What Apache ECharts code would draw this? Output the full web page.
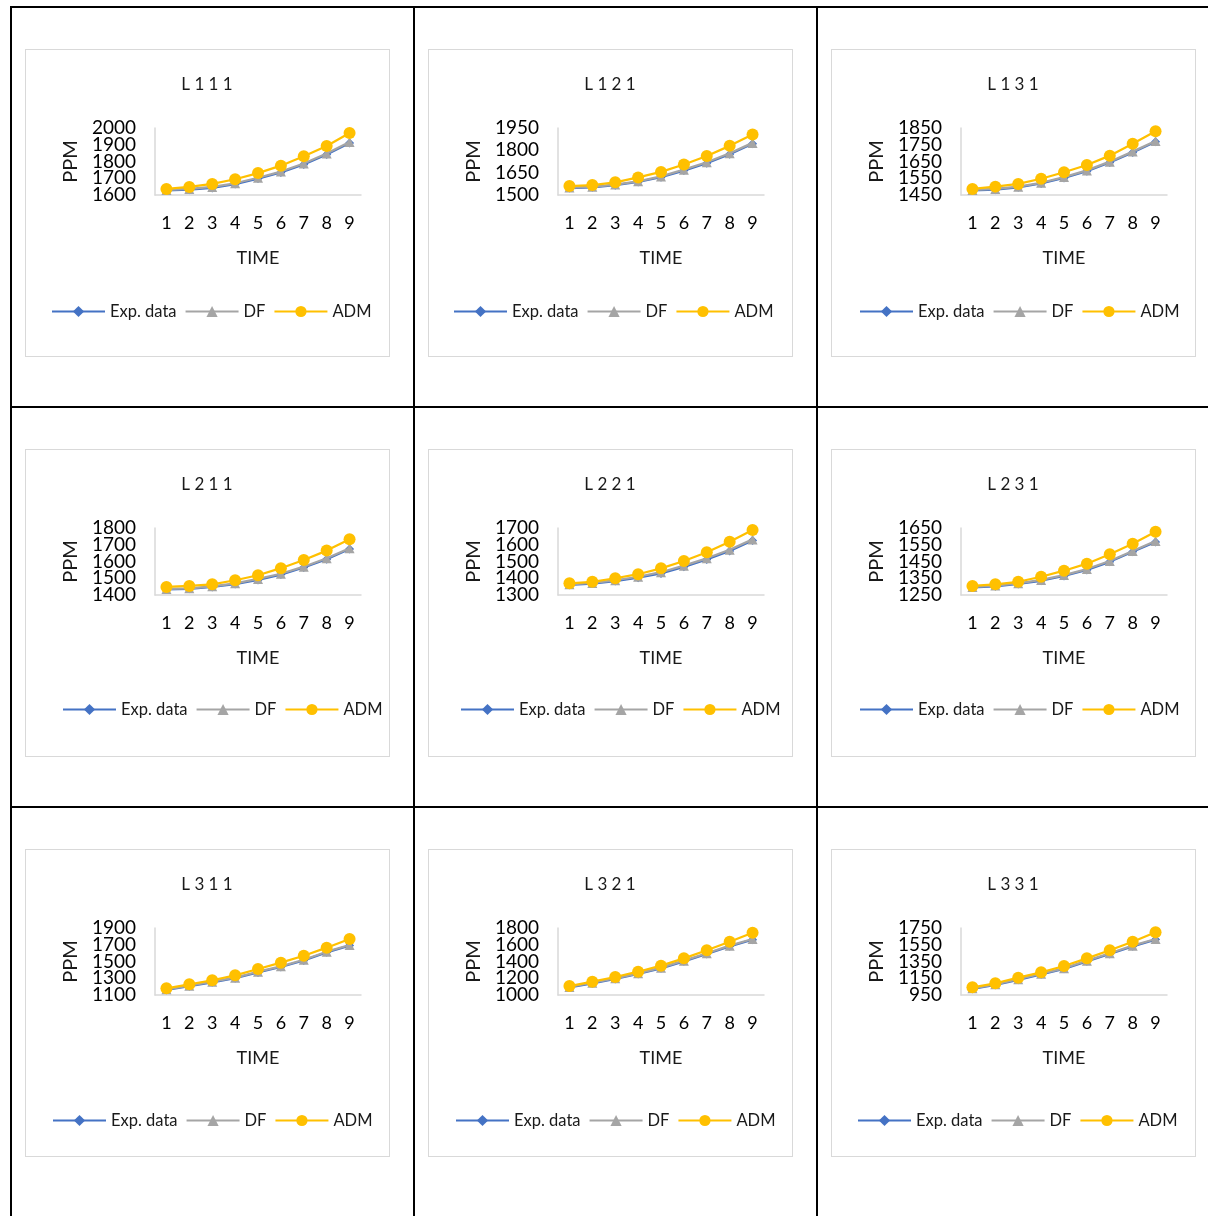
<!DOCTYPE html>
<html>
<head>
<meta charset="utf-8">
<script src="https://cdn.jsdelivr.net/npm/echarts@6/dist/echarts.min.js"></script>
<style>
  html, body { margin: 0; padding: 0; background: #fff; }
  body { width: 1208px; height: 1216px; position: relative; overflow: hidden; }
  .rule { position: absolute; background: #000; }
  .box { position: absolute; width: 365px; height: 308px; box-sizing: border-box;
         border: 1.5px solid #d9d9d9; background: #fff; }
</style>
</head>
<body>
<script>
// Time steps shared by all nine panels
const timeSteps = ['1', '2', '3', '4', '5', '6', '7', '8', '9'];
const seriesNames = ['Exp. data', 'DF', 'ADM'];

// Panel titles
const panelTitles = ['L111', 'L121', 'L131', 'L211', 'L221', 'L231', 'L311', 'L321', 'L331'];

// Y-axis tick labels (PPM) per panel
const ticksL111 = [1600, 1700, 1800, 1900, 2000];
const ticksL121 = [1500, 1650, 1800, 1950];
const ticksL131 = [1450, 1550, 1650, 1750, 1850];
const ticksL211 = [1400, 1500, 1600, 1700, 1800];
const ticksL221 = [1300, 1400, 1500, 1600, 1700];
const ticksL231 = [1250, 1350, 1450, 1550, 1650];
const ticksL311 = [1100, 1300, 1500, 1700, 1900];
const ticksL321 = [1000, 1200, 1400, 1600, 1800];
const ticksL331 = [950, 1150, 1350, 1550, 1750];

// Concentration (PPM) over time: experimental data, DF model, ADM model
const expL111 = [1627, 1632, 1642, 1665, 1698, 1735, 1782, 1842, 1911];
const dfL111  = [1630, 1636, 1648, 1670, 1703, 1740, 1788, 1848, 1916];
const admL111 = [1636, 1648, 1666, 1694, 1731, 1775, 1831, 1893, 1970];

const expL121 = [1547, 1552, 1566, 1588, 1620, 1664, 1714, 1774, 1844];
const dfL121  = [1550, 1555, 1570, 1592, 1625, 1670, 1720, 1780, 1850];
const admL121 = [1560, 1567, 1585, 1618, 1655, 1705, 1762, 1830, 1907];

const expL131 = [1477, 1482, 1496, 1519, 1552, 1592, 1644, 1704, 1768];
const dfL131  = [1480, 1486, 1500, 1523, 1557, 1597, 1649, 1709, 1772];
const admL131 = [1486, 1500, 1516, 1547, 1586, 1629, 1685, 1756, 1830];

const expL211 = [1433, 1437, 1448, 1465, 1490, 1522, 1564, 1614, 1675];
const dfL211  = [1436, 1440, 1452, 1470, 1496, 1527, 1569, 1619, 1679];
const admL211 = [1448, 1454, 1464, 1488, 1518, 1560, 1609, 1665, 1733];

const expL221 = [1361, 1368, 1383, 1403, 1429, 1468, 1512, 1563, 1626];
const dfL221  = [1364, 1372, 1388, 1409, 1436, 1475, 1519, 1570, 1632];
const admL221 = [1370, 1379, 1400, 1424, 1459, 1503, 1555, 1618, 1688];

const expL231 = [1295, 1302, 1316, 1335, 1364, 1400, 1448, 1508, 1567];
const dfL231  = [1298, 1306, 1320, 1340, 1369, 1405, 1453, 1513, 1572];
const admL231 = [1304, 1314, 1329, 1359, 1395, 1437, 1493, 1556, 1628];

const expL311 = [1162, 1205, 1252, 1300, 1370, 1434, 1513, 1609, 1690];
const dfL311  = [1168, 1211, 1259, 1307, 1378, 1442, 1521, 1617, 1697];
const admL311 = [1180, 1228, 1276, 1335, 1410, 1486, 1569, 1665, 1769];

const expL321 = [1090, 1140, 1192, 1252, 1318, 1402, 1490, 1581, 1661];
const dfL321  = [1096, 1147, 1199, 1259, 1326, 1410, 1498, 1589, 1669];
const admL321 = [1107, 1159, 1215, 1278, 1350, 1438, 1534, 1636, 1744];

const expL331 = [1024, 1072, 1131, 1197, 1262, 1352, 1440, 1531, 1612];
const dfL331  = [1030, 1078, 1138, 1204, 1269, 1360, 1448, 1539, 1619];
const admL331 = [1042, 1090, 1157, 1221, 1296, 1388, 1484, 1586, 1699];

const panelTicks = [ticksL111, ticksL121, ticksL131, ticksL211, ticksL221, ticksL231, ticksL311, ticksL321, ticksL331];
const panelExp = [expL111, expL121, expL131, expL211, expL221, expL231, expL311, expL321, expL331];
const panelDf  = [dfL111, dfL121, dfL131, dfL211, dfL221, dfL231, dfL311, dfL321, dfL331];
const panelAdm = [admL111, admL121, admL131, admL211, admL221, admL231, admL311, admL321, admL331];

// Page layout: table rules and chart boxes
const colX = [25, 428, 831];
const rowY = [49, 449, 849];
const legendTop = [253, 251, 262];
const legendLeft = [25, 24, 27, 36, 31, 27, 26, 26, 25];

function rule(x, y, w, h) {
  const d = document.createElement('div');
  d.className = 'rule';
  d.style.left = x + 'px'; d.style.top = y + 'px';
  d.style.width = w + 'px'; d.style.height = h + 'px';
  document.body.appendChild(d);
}
rule(10, 6, 1198, 2);
rule(10, 406, 1198, 2);
rule(10, 806, 1198, 2);
rule(10, 6, 2, 1210);
rule(413, 6, 2, 1210);
rule(816, 6, 2, 1210);

const FONT = 'Lato, "Open Sans", sans-serif';
const colors = ['#4472C4', '#A5A5A5', '#FFC000'];

for (let i = 0; i < 9; i++) {
  const r = Math.floor(i / 3), c = i % 3;
  const box = document.createElement('div');
  box.className = 'box';
  box.style.left = colX[c] + 'px';
  box.style.top = rowY[r] + 'px';
  document.body.appendChild(box);
  const inner = document.createElement('div');
  inner.style.width = '362px';
  inner.style.height = '305px';
  box.appendChild(inner);

  const ticks = panelTicks[i];
  const lo = ticks[0], hi = ticks[ticks.length - 1];
  // Tick labels sit tightly packed; split them over two stacked axes so none get thinned out
  const evenTicks = ticks.filter((_, k) => k % 2 === 0);
  const oddTicks = ticks.filter((_, k) => k % 2 === 1);
  const labelStyle = (vals) => ({
    fontFamily: FONT, fontSize: 19, color: '#000', margin: 19,
    customValues: vals, hideOverlap: false, showMinLabel: true, showMaxLabel: true,
    formatter: v => String(v)
  });

  const chart = echarts.init(inner, null, { renderer: 'canvas' });
  const mkSeries = (name, data, symbol, size, idx) => ({
    name, type: 'line', data, symbol, symbolSize: size, yAxisIndex: 0,
    lineStyle: { color: colors[idx], width: 2.25 },
    itemStyle: { color: colors[idx] },
    animation: false, z: 2 + idx
  });
  chart.setOption({
    animation: false,
    title: {
      text: panelTitles[i].split('').join(' '),
      left: 'center', top: 21,
      textStyle: { fontFamily: FONT, fontSize: 17, fontWeight: 'normal', color: '#1a1a1a' }
    },
    grid: { left: 129, top: 78, width: 206, height: 67, containLabel: false },
    legend: {
      data: seriesNames,
      left: legendLeft[i], top: legendTop[r], width: 362, padding: 0,
      itemWidth: 53, itemHeight: 14, itemGap: 8,
      textStyle: { fontFamily: FONT, fontSize: 16.5, color: '#1a1a1a' }
    },
    xAxis: {
      type: 'category', data: timeSteps, boundaryGap: true,
      name: 'TIME', nameLocation: 'middle', nameGap: 54,
      nameTextStyle: { fontFamily: FONT, fontSize: 18, color: '#1a1a1a' },
      axisLine: { lineStyle: { color: '#d9d9d9', width: 1.5 } },
      axisTick: { show: false },
      axisLabel: { fontFamily: FONT, fontSize: 18, color: '#000', margin: 19 }
    },
    yAxis: [
      {
        type: 'value', min: lo, max: hi, position: 'left',
        name: 'PPM', nameLocation: 'middle', nameGap: 71, nameRotate: 90,
        nameTextStyle: { fontFamily: FONT, fontSize: 20, color: '#1a1a1a' },
        axisLine: { show: true, lineStyle: { color: '#d9d9d9', width: 1.5 } },
        axisTick: { show: false },
        splitLine: { show: false },
        axisLabel: labelStyle(evenTicks)
      },
      {
        type: 'value', min: lo, max: hi, position: 'left', offset: 0,
        axisLine: { show: false },
        axisTick: { show: false },
        splitLine: { show: false },
        axisLabel: labelStyle(oddTicks)
      }
    ],
    series: [
      mkSeries(seriesNames[0], panelExp[i], 'diamond', 9, 0),
      mkSeries(seriesNames[1], panelDf[i], 'triangle', 10, 1),
      mkSeries(seriesNames[2], panelAdm[i], 'circle', 12, 2)
    ]
  });
}
</script>
</body>
</html>
